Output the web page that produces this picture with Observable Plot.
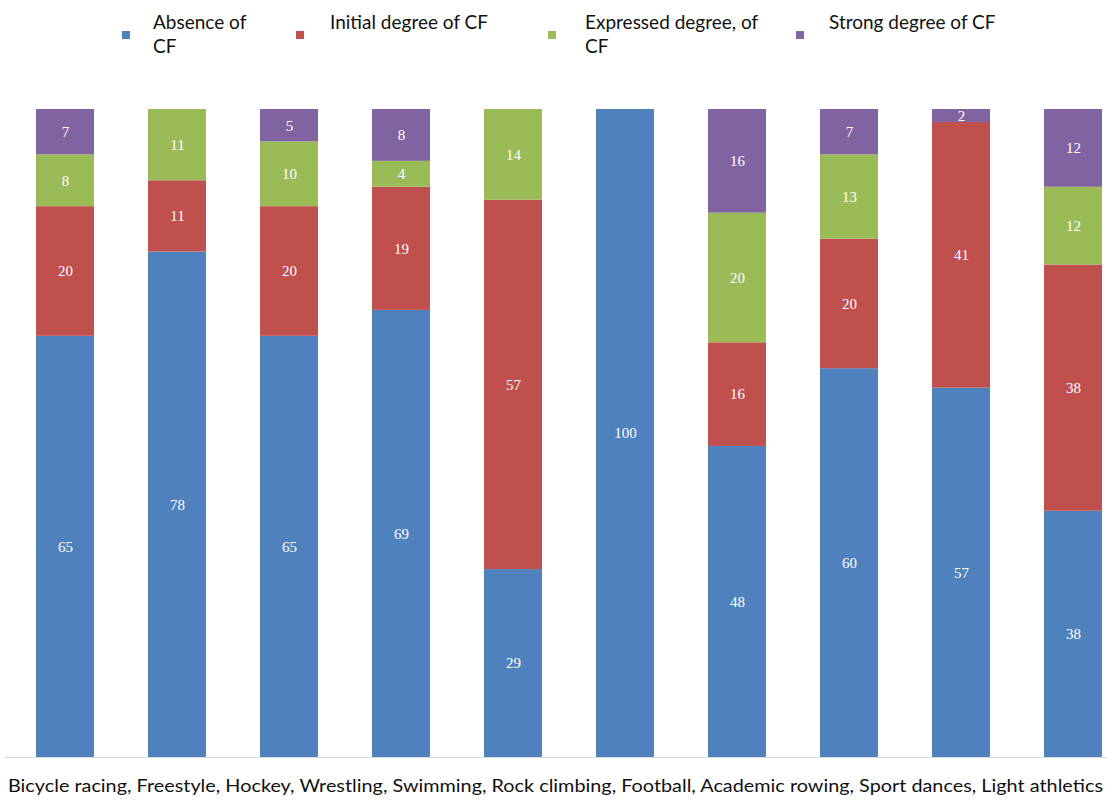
<!DOCTYPE html>
<html>
<head>
<meta charset="utf-8">
<script src="https://cdn.jsdelivr.net/npm/d3@7"></script>
<script src="https://cdn.jsdelivr.net/npm/@observablehq/plot@0.6"></script>
<style>
  html, body { margin: 0; padding: 0; background: #fff; }
  #page { position: relative; width: 1107px; height: 801px; overflow: hidden; }
  #legend { position: relative; height: 70px; font-family: Lato, "Open Sans", sans-serif; font-size: 19px; color: #111; }
  .item { position: absolute; top: 10px; line-height: 24px; }
  .swatch { position: absolute; width: 8px; height: 8px; }
  #chart svg { display: block; }
  #caption { font-family: Lato, "Open Sans", sans-serif; font-size: 18px; color: #111; line-height: 24px;
             white-space: nowrap; padding-left: 8px; transform-origin: 8px 0; margin-top: 3px; }
</style>
</head>
<body>
<div id="page">
  <div id="legend"></div>
  <div id="chart"></div>
  <div id="caption"></div>
</div>
<script>
// Sports, in the order they are drawn left to right
const sports = ["Bicycle racing", "Freestyle", "Hockey", "Wrestling", "Swimming",
                "Rock climbing", "Football", "Academic rowing", "Sport dances", "Light athletics"];

// Degrees of CF (stacked bottom to top)
const levels = ["Absence of CF", "Initial degree of CF", "Expressed degree, of CF", "Strong degree of CF"];
const levelColors = ["#4f81bd", "#c0504d", "#9bbb59", "#8064a2"];

// Share of athletes (%) for each degree, one value per sport
const absence   = [65, 78, 65, 69, 29, 100, 48, 60, 57, 38];
const initial   = [20, 11, 20, 19, 57,   0, 16, 20, 41, 38];
const expressed = [ 8, 11, 10,  4, 14,   0, 20, 13,  0, 12];
const strong    = [ 7,  0,  5,  8,  0,   0, 16,  7,  2, 12];

const series = [absence, initial, expressed, strong];
const data = [];
series.forEach((vals, i) => {
  vals.forEach((v, j) => data.push({sport: sports[j], level: levels[i], value: v}));
});

// Legend above the chart
const legendItems = [
  {label: "Absence of CF",            sx: 122, sy: 31, tx: 153, w: 110},
  {label: "Initial degree of CF",     sx: 296, sy: 31, tx: 330, w: 210},
  {label: "Expressed degree, of CF",  sx: 548, sy: 31, tx: 585, w: 200},
  {label: "Strong degree of CF",      sx: 796, sy: 31, tx: 829, w: 240}
];
const legend = document.getElementById("legend");
legendItems.forEach((it, i) => {
  const sw = document.createElement("div");
  sw.className = "swatch";
  sw.style.left = it.sx + "px";
  sw.style.top = it.sy + "px";
  sw.style.background = levelColors[i];
  legend.appendChild(sw);
  const t = document.createElement("div");
  t.className = "item";
  t.style.left = it.tx + "px";
  t.style.width = it.w + "px";
  t.textContent = it.label;
  legend.appendChild(t);
});

const chart = Plot.plot({
  width: 1107,
  height: 700,
  marginTop: 39,
  marginBottom: 13,
  marginLeft: 5,
  marginRight: 0,
  x: {domain: sports, range: [33, 1105], paddingInner: 0.485, paddingOuter: 0, axis: null},
  y: {domain: [0, 100], axis: null},
  color: {domain: levels, range: levelColors},
  marks: [
    Plot.ruleY([0], {stroke: "#d9d9d9", strokeWidth: 1.2}),
    Plot.barY(data, {x: "sport", y: "value", z: "level", fill: "level"}),
    Plot.text(data, Plot.stackY({
      x: "sport", y: "value", z: "level", text: "value",
      filter: d => d.value > 0,
      fill: "white",
      fontFamily: "Liberation Serif, DejaVu Serif, serif",
      fontSize: 15
    }))
  ]
});
document.getElementById("chart").appendChild(chart);

// Caption listing the sports, fitted to the chart width
const caption = document.getElementById("caption");
const span = document.createElement("span");
span.textContent = sports.join(", ");
caption.appendChild(span);
const w = span.getBoundingClientRect().width;
caption.style.transform = `scaleX(${1095 / w})`;
</script>
</body>
</html>
